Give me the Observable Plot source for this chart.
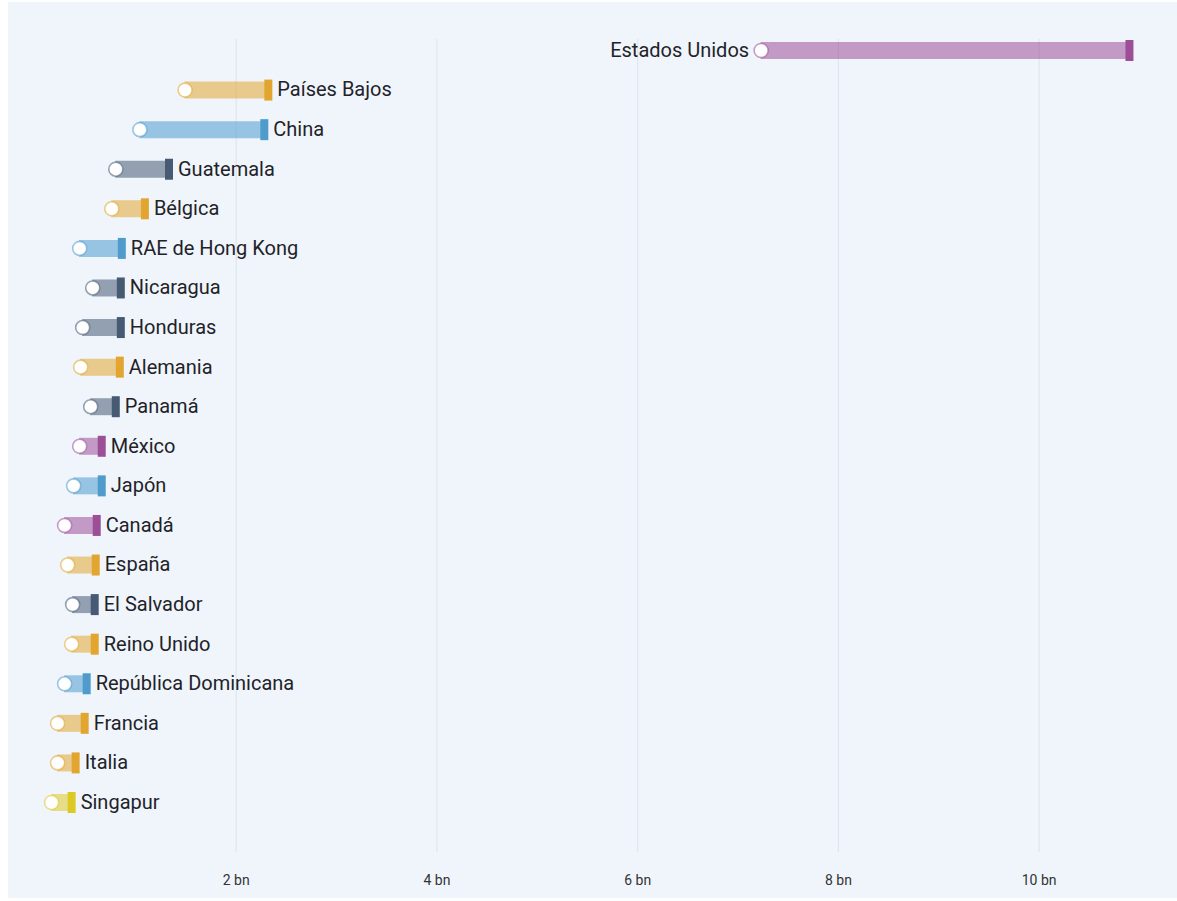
<!DOCTYPE html>
<html>
<head>
<meta charset="utf-8">
<script src="https://cdn.jsdelivr.net/npm/d3@7"></script>
<script src="https://cdn.jsdelivr.net/npm/@observablehq/plot@0.6"></script>
<style>
  html, body { margin: 0; padding: 0; background: #ffffff; }
  #chart { position: absolute; left: 8px; top: 2px; }
  #chart svg { display: block; }
</style>
</head>
<body>
<div id="chart"></div>
<script>
const countries = ["Estados Unidos", "Países Bajos", "China", "Guatemala", "Bélgica", "RAE de Hong Kong", "Nicaragua", "Honduras", "Alemania", "Panamá", "México", "Japón", "Canadá", "España", "El Salvador", "Reino Unido", "República Dominicana", "Francia", "Italia", "Singapur"];
const startValues = [7.23, 1.49, 1.04, 0.80, 0.76, 0.44, 0.57, 0.47, 0.45, 0.55, 0.44, 0.38, 0.29, 0.32, 0.37, 0.36, 0.29, 0.22, 0.22, 0.16];
const endValues = [10.9, 2.32, 2.28, 1.33, 1.09, 0.86, 0.85, 0.85, 0.84, 0.80, 0.66, 0.66, 0.61, 0.60, 0.59, 0.59, 0.51, 0.49, 0.40, 0.36];
const regions = ["Norteamérica", "Europa", "Asia", "Centroamérica", "Europa", "Asia", "Centroamérica", "Centroamérica", "Europa", "Centroamérica", "Norteamérica", "Asia", "Norteamérica", "Europa", "Centroamérica", "Europa", "Asia", "Europa", "Europa", "Singapur"];
const regionNames = ["Norteamérica", "Europa", "Asia", "Centroamérica", "Singapur"];
const regionColors = ["#9c4f97", "#e2a530", "#4e9bcc", "#475a73", "#dcc926"];
const xTicks = [2, 4, 6, 8, 10];
const tickLabels = ["2 bn", "4 bn", "6 bn", "8 bn", "10 bn"];
const labelOnLeft = ["Estados Unidos"];

const data = countries.map((c, i) => ({country: c, start: startValues[i], end: endValues[i], region: regions[i]}));
const tickLabel = d => tickLabels[xTicks.indexOf(d)];

const endSymbol = {
  draw(context) {
    context.rect(-4, -10.5, 8, 21);
  }
};

const chart = Plot.plot({
  width: 1169,
  height: 896,
  marginLeft: 27,
  marginRight: 38,
  marginTop: 37,
  marginBottom: 46,
  style: {background: "#f0f5fc", fontFamily: "Roboto, sans-serif"},
  x: {domain: [0, 11], axis: null},
  y: {type: "point", domain: countries, range: [48, 800], padding: 0, round: false, axis: null},
  color: {domain: regionNames, range: regionColors},
  marks: [
    Plot.gridX(xTicks, {stroke: "#dfe5ec", strokeOpacity: 1, strokeWidth: 1.2}),
    Plot.axisX(xTicks, {tickSize: 0, tickPadding: 23, fontSize: 14, tickFormat: tickLabel, fill: "#333", fontFamily: "Roboto, sans-serif"}),
    Plot.ruleY(data, {y: "country", x1: "start", x2: "end", stroke: "region", strokeWidth: 17, strokeOpacity: 0.55}),
    Plot.dot(data, {x: "end", y: "country", fill: "region", symbol: endSymbol, r: 5}),
    Plot.dot(data, {x: "start", y: "country", r: 7, fill: "white", stroke: "region", strokeOpacity: 0.55, strokeWidth: 1.6}),
    Plot.text(data.filter(d => !labelOnLeft.includes(d.country)), {x: "end", y: "country", text: "country", dx: 9, textAnchor: "start", fontSize: 20, fill: "#1f2328"}),
    Plot.text(data.filter(d => labelOnLeft.includes(d.country)), {x: "start", y: "country", text: "country", dx: -12, textAnchor: "end", fontSize: 20, fill: "#1f2328"})
  ]
});
document.getElementById("chart").appendChild(chart);
</script>
</body>
</html>
